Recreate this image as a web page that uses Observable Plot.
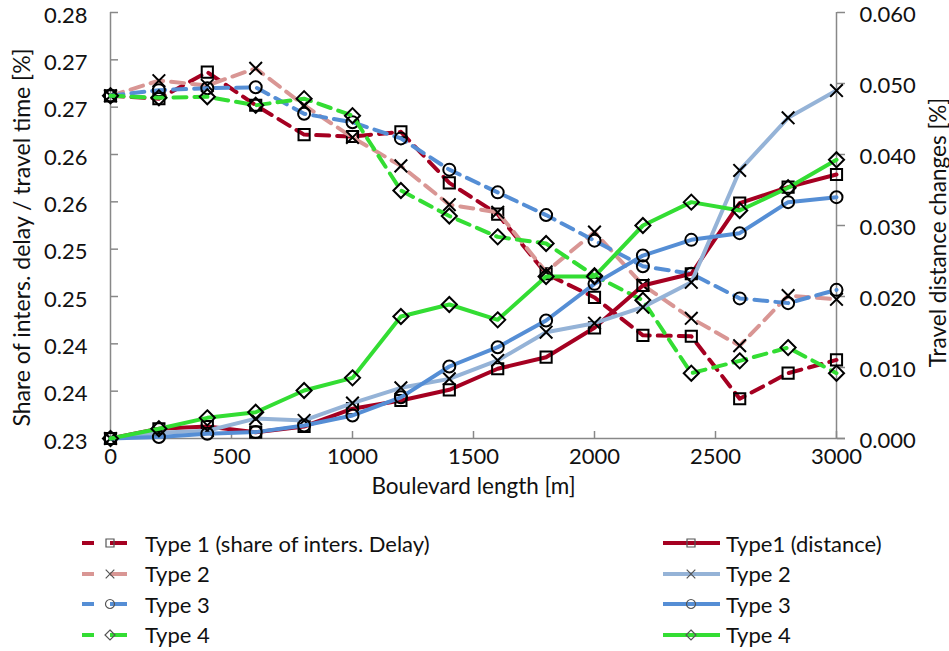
<!DOCTYPE html>
<html>
<head>
<meta charset="utf-8">
<script src="https://cdn.jsdelivr.net/npm/d3@7"></script>
<script src="https://cdn.jsdelivr.net/npm/@observablehq/plot@0.6"></script>
<style>
  body { margin: 0; background: #fff; font-family: Lato, "Open Sans", sans-serif; }
  #wrap { position: relative; width: 949px; height: 651px; background: #fff; }
  .leg { position: absolute; display: flex; align-items: center; height: 30px; font-size: 22px; color: #111; white-space: nowrap; }
  .leg svg { display: block; }
</style>
</head>
<body>
<div id="wrap"></div>
<script>
// ---------- data ----------
const lengths = [0, 200, 400, 600, 800, 1000, 1200, 1400, 1600, 1800, 2000, 2200, 2400, 2600, 2800, 3000];

// share of intersection delay / travel time (left axis), dashed
const delayType1 = [0.2662, 0.2659, 0.2687, 0.2652, 0.2621, 0.2619, 0.2624, 0.2570, 0.2537, 0.2474, 0.2449, 0.2409, 0.2408, 0.2342, 0.2369, 0.2383];
const delayType2 = [0.2662, 0.2678, 0.2673, 0.2691, 0.2652, 0.2618, 0.2588, 0.2547, 0.2539, 0.2476, 0.2518, 0.2462, 0.2427, 0.2398, 0.2451, 0.2447];
const delayType3 = [0.2662, 0.2668, 0.2670, 0.2671, 0.2643, 0.2634, 0.2617, 0.2584, 0.2560, 0.2536, 0.2509, 0.2482, 0.2474, 0.2448, 0.2443, 0.2457];
const delayType4 = [0.2662, 0.2660, 0.2661, 0.2652, 0.2659, 0.2641, 0.2562, 0.2535, 0.2513, 0.2506, 0.2472, 0.2446, 0.2369, 0.2382, 0.2396, 0.2369];

// travel distance changes (right axis), solid
const distType1 = [0, 0.00137, 0.00169, 0.00089, 0.00169, 0.0042, 0.00535, 0.00686, 0.00982, 0.01145, 0.01559, 0.02155, 0.0232, 0.03314, 0.0354, 0.03718];
const distType2 = [0, 0.0008, 0.0011, 0.0028, 0.00254, 0.00498, 0.00714, 0.0084, 0.01099, 0.01497, 0.01624, 0.0185, 0.0220, 0.03775, 0.04517, 0.04901];
const distType3 = [0, 0.0002, 0.00066, 0.0009, 0.00183, 0.00324, 0.0058, 0.01014, 0.01286, 0.01662, 0.02178, 0.02577, 0.02798, 0.02892, 0.03329, 0.03399];
const distType4 = [0, 0.00137, 0.00291, 0.0037, 0.00676, 0.00854, 0.01718, 0.01887, 0.01671, 0.02282, 0.02282, 0.0300, 0.03329, 0.03211, 0.03531, 0.03925];

const xTicks = [0, 500, 1000, 1500, 2000, 2500, 3000];
const xTickLabels = ["0", "500", "1000", "1500", "2000", "2500", "3000"];
const leftTicks = [0.23, 0.235, 0.24, 0.245, 0.25, 0.255, 0.26, 0.265, 0.27, 0.275];
const leftTickLabels = ["0.23", "0.24", "0.24", "0.25", "0.25", "0.26", "0.26", "0.27", "0.27", "0.28"];
const rightTicks = [0, 0.01, 0.02, 0.03, 0.04, 0.05, 0.06];
const rightTickLabels = ["0.000", "0.010", "0.020", "0.030", "0.040", "0.050", "0.060"];

const delayNames = ["Type 1 (share of inters. Delay)", "Type 2", "Type 3", "Type 4"];
const distNames = ["Type1 (distance)", "Type 2", "Type 3", "Type 4"];

const xTitle = "Boulevard length [m]";
const yLeftTitle = "Share of inters. delay / travel time [%]";
const yRightTitle = "Travel distance changes [%]";

// ---------- styles ----------
const delayStyle = [
  {color: "#A50021", symbol: "square", r: 6.3},
  {color: "#D99694", symbol: "times", r: 5.8},
  {color: "#558ED5", symbol: "circle", r: 6},
  {color: "#33DD33", symbol: "diamond2", r: 6.8}
];
const distStyle = [
  {color: "#A50021", symbol: "square", r: 6.3},
  {color: "#95B3D7", symbol: "times", r: 5.8},
  {color: "#558ED5", symbol: "circle", r: 6},
  {color: "#33DD33", symbol: "diamond2", r: 6.8}
];
const axisColor = "#888888";
const FONT = "Lato, 'Open Sans', sans-serif";

// ---------- scales ----------
const leftDomain = [0.23, 0.275];
const rightDomain = [0, 0.06];
const toLeft = v => leftDomain[0] + (v - rightDomain[0]) * (leftDomain[1] - leftDomain[0]) / (rightDomain[1] - rightDomain[0]);
const rightTickPos = rightTicks.map(toLeft);

const W = 949, H = 500;
const mL = 110, mR = 113, mT = 12, mB = 62;
const plotW = W - mL - mR, plotH = H - mT - mB;

const delayData = [delayType1, delayType2, delayType3, delayType4];
const distData = [distType1, distType2, distType3, distType4];

const marks = [];
// axis lines and ticks
marks.push(Plot.tickY(leftTicks, {y: d => d, stroke: axisColor, strokeWidth: 1.5, insetRight: plotW - 8}));
marks.push(Plot.tickX(xTicks, {x: d => d, stroke: axisColor, strokeWidth: 1.5, insetTop: plotH - 7}));
marks.push(Plot.ruleX([0], {stroke: axisColor, strokeWidth: 1.5}));
marks.push(Plot.ruleX([3000], {stroke: axisColor, strokeWidth: 1.5}));
marks.push(Plot.ruleY([leftDomain[0]], {stroke: axisColor, strokeWidth: 1.5, insetRight: -9}));
marks.push(Plot.axisY({anchor: "right", ticks: rightTickPos, tickSize: 8, label: null, stroke: axisColor, strokeWidth: 1.5,
  tickFormat: () => ""}));

// tick labels
marks.push(Plot.axisY({ticks: leftTicks, tickSize: 0, tickPadding: 23, label: null, fontSize: 22, fill: "#111", dy: 3,
  tickFormat: d => leftTickLabels[leftTicks.indexOf(d)]}));
marks.push(Plot.axisY({anchor: "right", ticks: rightTickPos, tickSize: 0, tickPadding: 23, label: null, fontSize: 22, fill: "#111", dy: 2,
  tickFormat: d => rightTickLabels[rightTickPos.indexOf(d)]}));
marks.push(Plot.axisX({ticks: xTicks, tickSize: 0, tickPadding: 10, label: null, fontSize: 22, fill: "#111",
  tickFormat: d => xTickLabels[xTicks.indexOf(d)]}));

// axis titles
marks.push(Plot.text([yLeftTitle], {text: d => d, frameAnchor: "left", textAnchor: "middle", lineAnchor: "middle", rotate: -90, dx: -88, dy: 12, fontSize: 23, fill: "#111"}));
marks.push(Plot.text([yRightTitle], {text: d => d, frameAnchor: "right", textAnchor: "middle", lineAnchor: "middle", rotate: -90, dx: 102, dy: 7, fontSize: 22.5, fill: "#111"}));
marks.push(Plot.text([xTitle], {text: d => d, frameAnchor: "bottom", textAnchor: "middle", lineAnchor: "middle", dy: 48, fontSize: 22.5, fill: "#111"}));

// dashed series (left axis)
delayData.forEach((vals, k) => {
  const s = delayStyle[k];
  const table = lengths.map((x, i) => ({x, y: vals[i]}));
  marks.push(Plot.line(table, {x: "x", y: "y", stroke: s.color, strokeWidth: 4, strokeDasharray: "13,8"}));
  marks.push(Plot.dot(table, {x: "x", y: "y", symbol: s.symbol, r: s.r, stroke: "#000", strokeWidth: 2, fill: "none"}));
});
// solid series (right axis)
distData.forEach((vals, k) => {
  const s = distStyle[k];
  const table = lengths.map((x, i) => ({x, y: toLeft(vals[i])}));
  marks.push(Plot.line(table, {x: "x", y: "y", stroke: s.color, strokeWidth: 4}));
  marks.push(Plot.dot(table, {x: "x", y: "y", symbol: s.symbol, r: s.r, stroke: "#000", strokeWidth: 2, fill: "none"}));
});

const chart = Plot.plot({
  width: W, height: H,
  marginLeft: mL, marginRight: mR, marginTop: mT, marginBottom: mB,
  style: {fontFamily: FONT, fontSize: "22px", background: "#fff", overflow: "visible", color: "#111"},
  x: {type: "linear", domain: [0, 3000]},
  y: {type: "linear", domain: leftDomain},
  marks
});
const wrap = document.getElementById("wrap");
wrap.appendChild(chart);

// ---------- legend ----------
const symbolMap = {square: d3.symbolSquare, times: d3.symbolTimes, circle: d3.symbolCircle, diamond2: d3.symbolDiamond2};
function swatch(style, dashed) {
  const w = dashed ? 48 : 60, h = 20, cy = 10;
  const svg = d3.create("svg").attr("width", w).attr("height", h);
  let cx;
  if (dashed) {
    cx = 30;
    svg.append("line").attr("x1", 2).attr("x2", 14).attr("y1", cy).attr("y2", cy).attr("stroke", style.color).attr("stroke-width", 4);
    svg.append("line").attr("x1", 30).attr("x2", 47).attr("y1", cy).attr("y2", cy).attr("stroke", style.color).attr("stroke-width", 4);
  } else {
    cx = 29;
    svg.append("line").attr("x1", 1).attr("x2", 58).attr("y1", cy).attr("y2", cy).attr("stroke", style.color).attr("stroke-width", 4);
  }
  svg.append("path").attr("transform", `translate(${cx},${cy})`)
    .attr("d", d3.symbol(symbolMap[style.symbol], style.symbol === "times" ? 50 : 64)())
    .attr("fill", "none").attr("stroke", "#555").attr("stroke-width", 1.2);
  return svg.node();
}
const rowY = [543, 573.5, 604, 634.5];
delayNames.forEach((name, k) => {
  const div = document.createElement("div");
  div.className = "leg";
  div.style.left = "80px";
  div.style.top = (rowY[k] - 15) + "px";
  div.appendChild(swatch(delayStyle[k], true));
  const sp = document.createElement("span");
  sp.textContent = name;
  sp.style.marginLeft = "17px";
  div.appendChild(sp);
  wrap.appendChild(div);
});
distNames.forEach((name, k) => {
  const div = document.createElement("div");
  div.className = "leg";
  div.style.left = "662px";
  div.style.top = (rowY[k] - 15) + "px";
  div.appendChild(swatch(distStyle[k], false));
  const sp = document.createElement("span");
  sp.textContent = name;
  sp.style.marginLeft = "4px";
  div.appendChild(sp);
  wrap.appendChild(div);
});
</script>
</body>
</html>
